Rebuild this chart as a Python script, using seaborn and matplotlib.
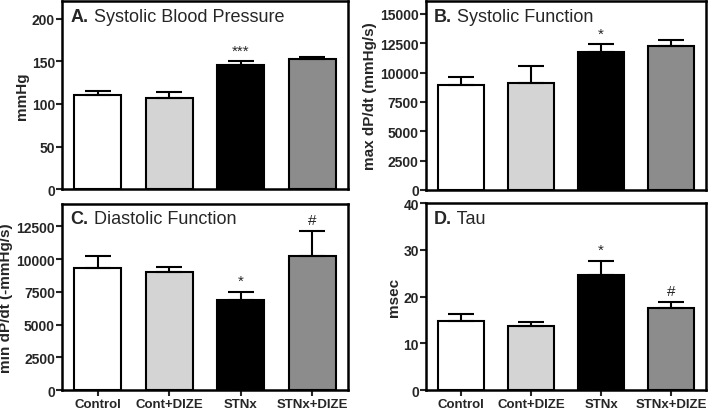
import matplotlib
matplotlib.use("Agg")
import matplotlib.pyplot as plt
import numpy as np
import pandas as pd
import seaborn as sns

sns.set_style("ticks")
plt.rcParams['font.family'] = ['Liberation Sans', 'DejaVu Sans']

groups = ["Control", "Cont+DIZE", "STNx", "STNx+DIZE"]
colors = ["#ffffff", "#d4d4d4", "#000000", "#8c8c8c"]

sbp_mean = [110, 107, 146, 153]
sbp_err = [5, 7, 4, 2.5]
sbp_marks = ["", "", "***", ""]

maxdp_mean = [8950, 9150, 11750, 12300]
maxdp_err = [650, 1400, 650, 500]
maxdp_marks = ["", "", "*", ""]

mindp_mean = [9350, 9000, 6850, 10200]
mindp_err = [850, 400, 650, 1900]
mindp_marks = ["", "", "*", "#"]

tau_mean = [14.8, 13.8, 24.6, 17.5]
tau_err = [1.5, 0.8, 3.0, 1.3]
tau_marks = ["", "", "*", "#"]

panels = [
    ("A.", "Systolic Blood Pressure", "mmHg", sbp_mean, sbp_err, sbp_marks, 221, [0, 50, 100, 150, 200]),
    ("B.", "Systolic Function", "max dP/dt (mmHg/s)", maxdp_mean, maxdp_err, maxdp_marks, 16100,
     [0, 2500, 5000, 7500, 10000, 12500, 15000]),
    ("C.", "Diastolic Function", "min dP/dt (-mmHg/s)", mindp_mean, mindp_err, mindp_marks, 14200,
     [0, 2500, 5000, 7500, 10000, 12500]),
    ("D.", "Tau", "msec", tau_mean, tau_err, tau_marks, 40, [0, 10, 20, 30, 40]),
]

fig = plt.figure(figsize=(7.12, 4.14), dpi=100)
boxes = [
    [0.087, 0.541, 0.402, 0.454],
    [0.598, 0.539, 0.394, 0.456],
    [0.087, 0.055, 0.402, 0.450],
    [0.598, 0.055, 0.394, 0.452],
]

for i, (letter, title, ylabel, mean, err, marks, ymax, yticks) in enumerate(panels):
    ax = fig.add_axes(boxes[i])
    df = pd.DataFrame({"group": groups, "value": mean})
    sns.barplot(data=df, x="group", y="value", hue="group", palette=colors,
                edgecolor="black", linewidth=1.5, width=0.66, legend=False, ax=ax)
    pos = np.arange(len(groups))
    ax.errorbar(pos, mean, yerr=[np.zeros(len(err)), err], fmt="none",
                ecolor="black", elinewidth=1.5, capsize=9.5, capthick=1.5, zorder=1)
    for x, m, e, t in zip(pos, mean, err, marks):
        if t:
            ax.annotate(t, (x, m + e), xytext=(0, 3), textcoords="offset points",
                        ha="center", va="bottom", fontsize=11)
    ax.set_xlim(-0.5, 3.5)
    ax.set_ylim(0, ymax)
    ax.set_yticks(yticks)
    ax.set_ylabel(ylabel, fontsize=11, fontweight="bold", labelpad=2)
    ax.set_xlabel("")
    for s in ax.spines.values():
        s.set_visible(True)
        s.set_linewidth(1.8)
        s.set_color("black")
    ax.tick_params(axis="y", width=1.5, length=4, labelsize=10, pad=1)
    for lab in ax.get_yticklabels():
        lab.set_fontweight("bold")
    if i >= 2:
        ax.tick_params(axis="x", width=1.5, length=4, labelsize=9.5, pad=1.5)
        for lab in ax.get_xticklabels():
            lab.set_fontweight("bold")
    else:
        ax.tick_params(axis="x", length=0, labelbottom=False)
    t0 = ax.text(0.03, 0.965, letter, transform=ax.transAxes, ha="left", va="top",
                 fontsize=13, fontweight="bold")
    ax.annotate(" " + title, xy=(1, 0), xycoords=t0, ha="left", va="bottom",
                fontsize=13)

fig.savefig("out.png", dpi=100)
